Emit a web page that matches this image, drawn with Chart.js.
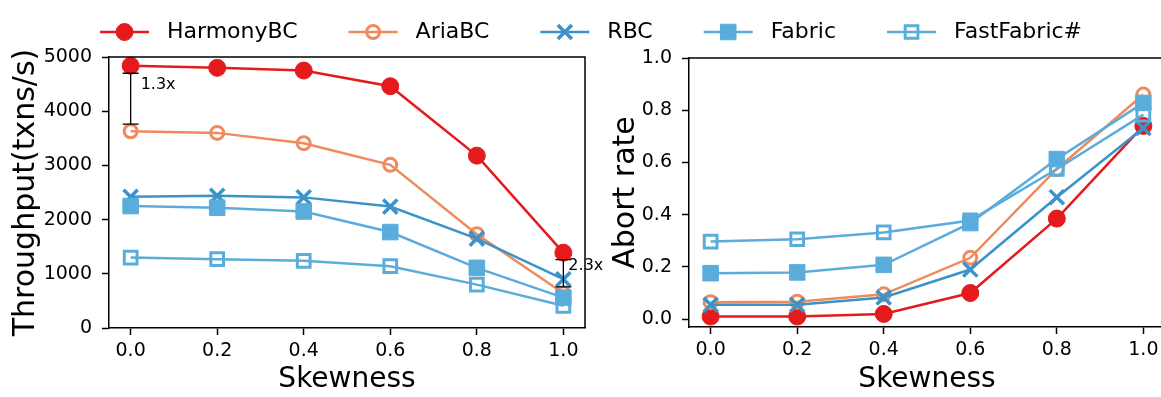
<!DOCTYPE html>
<html>
<head>
<meta charset="utf-8">
<script src="https://cdn.jsdelivr.net/npm/chart.js"></script>
<style>
  html, body { margin: 0; padding: 0; background: #fff; overflow: hidden; }
  #wrap { position: relative; width: 1161px; height: 397px; overflow: hidden; background: #fff; }
  #tput { position: absolute; left: 0; top: 0; }
  #abort { position: absolute; left: 600px; top: 0; }
</style>
</head>
<body>
<div id="wrap">
  <canvas id="tput" width="1161" height="397"></canvas>
  <canvas id="abort" width="570" height="397"></canvas>
</div>
<script>
var skew = [0.0, 0.2, 0.4, 0.6, 0.8, 1.0];
var systems = ['HarmonyBC', 'AriaBC', 'RBC', 'Fabric', 'FastFabric#'];

// throughput (txns/s)
var tputHarmony = [4840, 4800, 4750, 4460, 3180, 1390];
var tputAria    = [3630, 3600, 3410, 3010, 1730, 640];
var tputRBC     = [2420, 2440, 2410, 2240, 1650, 900];
var tputFabric  = [2250, 2220, 2150, 1770, 1110, 560];
var tputFast    = [1300, 1270, 1240, 1140, 800, 410];

// abort rate
var abortHarmony = [0.01, 0.01, 0.02, 0.10, 0.385, 0.74];
var abortAria    = [0.065, 0.067, 0.095, 0.235, 0.575, 0.86];
var abortRBC     = [0.055, 0.055, 0.083, 0.19, 0.467, 0.732];
var abortFabric  = [0.176, 0.179, 0.208, 0.368, 0.613, 0.828];
var abortFast    = [0.297, 0.306, 0.332, 0.378, 0.575, 0.783];

var tputTicks = [0, 1000, 2000, 3000, 4000, 5000];
var abortTicks = [0.0, 0.2, 0.4, 0.6, 0.8, 1.0];

// speedup brackets on the throughput plot
var gapSkew  = [0.0, 1.0];
var gapHigh  = [4700, 1260];
var gapLow   = [3760, 760];
var gapText  = [4490, 1140];
var gapLabel = ['1.3x', '2.3x'];

var FONT = 'DejaVu Sans';
Chart.defaults.font.family = FONT;
Chart.defaults.color = '#000';

var looks = [
  { color: '#e41a1c', shape: 'circle',   r: 8.5, bw: 1,   hollow: false },
  { color: '#ef8a5c', shape: 'circle',   r: 6.5, bw: 3,   hollow: true },
  { color: '#3b93c9', shape: 'crossRot', r: 10,  bw: 3.5, hollow: false },
  { color: '#5aaddb', shape: 'rect',     r: 11,  bw: 1,   hollow: false },
  { color: '#5aaddb', shape: 'rect',     r: 9,   bw: 3,   hollow: true }
];

function makeSets(rows) {
  return rows.map(function (vals, i) {
    var lk = looks[i];
    return {
      label: systems[i],
      data: vals.map(function (v, j) { return { x: skew[j], y: v }; }),
      borderColor: lk.color,
      borderWidth: 2.5,
      pointStyle: lk.shape,
      pointRadius: lk.r,
      pointBorderWidth: lk.bw,
      pointBorderColor: lk.color,
      pointBackgroundColor: lk.hollow ? 'rgba(0,0,0,0)' : lk.color,
      order: rows.length - i,
      clip: false
    };
  });
}

function xScale(height) {
  return {
    type: 'linear', min: -0.05, max: 1.05,
    afterBuildTicks: function (s) { s.ticks = skew.map(function (v) { return { value: v }; }); },
    // fixed box; end labels may run past the canvas edge
    afterFit: function (s) { s.height = height; s.paddingLeft = 0; s.paddingRight = 0; },
    ticks: { font: { size: 19 }, padding: 5, callback: function (v) { return v.toFixed(1); } },
    grid: { drawOnChartArea: false, tickLength: 7, tickWidth: 1.5, tickColor: '#000' },
    border: { color: '#000', width: 1.5 },
    title: { display: true, text: 'Skewness', font: { size: 28 }, padding: { top: 0, bottom: 0 } }
  };
}

function yScale(min, max, ticks, width, title, fmt) {
  return {
    type: 'linear', min: min, max: max,
    afterBuildTicks: function (s) { s.ticks = ticks.map(function (v) { return { value: v }; }); },
    afterFit: function (s) { s.width = width; s.paddingTop = 0; s.paddingBottom = 0; },
    ticks: { font: { size: 19 }, padding: 10, callback: fmt },
    grid: { drawOnChartArea: false, tickLength: 7, tickWidth: 1.5, tickColor: '#000' },
    border: { color: '#000', width: 1.5 },
    title: { display: true, text: title, font: { size: 30 }, padding: { top: 8, bottom: 0 } }
  };
}

// top and right spines
var frame = {
  id: 'frame',
  afterDatasetsDraw: function (chart) {
    var a = chart.chartArea, ctx = chart.ctx;
    ctx.save();
    ctx.strokeStyle = '#000';
    ctx.lineWidth = 1.5;
    ctx.beginPath();
    ctx.moveTo(a.left, a.top);
    ctx.lineTo(a.right, a.top);
    ctx.lineTo(a.right, a.bottom);
    ctx.stroke();
    ctx.restore();
  }
};

var brackets = {
  id: 'brackets',
  afterDraw: function (chart) {
    var ctx = chart.ctx, xs = chart.scales.x, ys = chart.scales.y;
    ctx.save();
    ctx.strokeStyle = '#000';
    ctx.fillStyle = '#000';
    ctx.lineWidth = 1.3;
    ctx.font = '16px "' + FONT + '"';
    ctx.textBaseline = 'middle';
    gapSkew.forEach(function (s, i) {
      var px = xs.getPixelForValue(s);
      var hi = ys.getPixelForValue(gapHigh[i]);
      var lo = ys.getPixelForValue(gapLow[i]);
      ctx.beginPath();
      ctx.moveTo(px, hi); ctx.lineTo(px, lo);
      ctx.moveTo(px - 8, hi); ctx.lineTo(px + 8, hi);
      ctx.moveTo(px - 8, lo); ctx.lineTo(px + 8, lo);
      ctx.stroke();
      ctx.fillText(gapLabel[i], px + (i === 0 ? 10 : 5), ys.getPixelForValue(gapText[i]));
    });
    ctx.restore();
  }
};

// one legend row across both plots
var legendRow = {
  id: 'legendRow',
  afterDraw: function (chart) {
    var ctx = chart.ctx, x = 100, y = 32;
    ctx.save();
    ctx.font = '22px "' + FONT + '"';
    ctx.textBaseline = 'middle';
    chart.data.datasets.forEach(function (ds) {
      ctx.strokeStyle = ds.borderColor;
      ctx.lineWidth = ds.borderWidth;
      ctx.beginPath();
      ctx.moveTo(x, y); ctx.lineTo(x + 49, y);
      ctx.stroke();
      ctx.fillStyle = ds.pointBackgroundColor;
      ctx.strokeStyle = ds.pointBorderColor;
      ctx.lineWidth = ds.pointBorderWidth;
      Chart.helpers.drawPoint(ctx, { pointStyle: ds.pointStyle, radius: ds.pointRadius, borderWidth: ds.pointBorderWidth, rotation: 0 }, x + 24.5, y);
      ctx.fillStyle = '#000';
      ctx.fillText(ds.label, x + 67, y);
      x += 67 + ctx.measureText(ds.label).width + 51;
    });
    ctx.restore();
  }
};

new Chart(document.getElementById('tput'), {
  type: 'line',
  data: { datasets: makeSets([tputHarmony, tputAria, tputRBC, tputFabric, tputFast]) },
  options: {
    responsive: false, animation: false,
    layout: { autoPadding: false, padding: { left: 0, top: 57, right: 1161 - 585, bottom: 0 } },
    plugins: { legend: { display: false }, tooltip: { enabled: false } },
    scales: {
      x: xScale(69),
      y: yScale(0, 5000, tputTicks, 109, 'Throughput(txns/s)', function (v) { return String(v); })
    }
  },
  plugins: [frame, brackets, legendRow]
});

new Chart(document.getElementById('abort'), {
  type: 'line',
  data: { datasets: makeSets([abortHarmony, abortAria, abortRBC, abortFabric, abortFast]) },
  options: {
    responsive: false, animation: false,
    layout: { autoPadding: false, padding: { left: 0, top: 58, right: 5, bottom: 0 } },
    plugins: { legend: { display: false }, tooltip: { enabled: false } },
    scales: {
      x: xScale(70),
      y: yScale(-0.03, 1.0, abortTicks, 89, 'Abort rate', function (v) { return v.toFixed(1); })
    }
  },
  plugins: [frame]
});
</script>
</body>
</html>
